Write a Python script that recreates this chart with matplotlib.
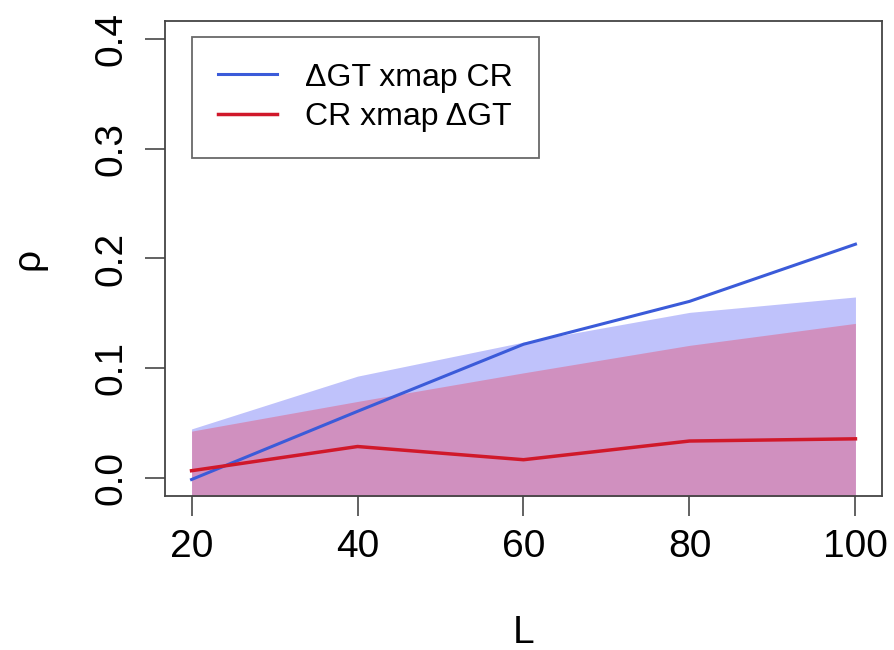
import matplotlib.pyplot as plt
import numpy as np

plt.rcParams['font.family'] = ['Liberation Sans', 'DejaVu Sans']

L = [20, 40, 60, 80, 100]
rho_gt_cr = [-0.001, 0.061, 0.122, 0.161, 0.213]
rho_cr_gt = [0.007, 0.029, 0.017, 0.034, 0.036]
upper_gt_cr = [0.045, 0.093, 0.124, 0.151, 0.165]
upper_cr_gt = [0.043, 0.070, 0.096, 0.121, 0.141]
lower = [-0.05, -0.05, -0.05, -0.05, -0.05]

fig = plt.figure(figsize=(8.95, 6.5), dpi=100)
ax = fig.add_axes([165 / 895, 1 - 496 / 650, 717 / 895, 475 / 650])

# null-model bands (clipped by the axes bottom like in R)
ax.fill_between(L, lower, upper_gt_cr, color='#0a14f0', alpha=0.26, lw=0)
ax.fill_between(L, lower, upper_cr_gt, color='#ff0a20', alpha=0.27, lw=0)

ax.plot(L, rho_gt_cr, color='#3b5bd9', lw=2.2, label='ΔGT xmap CR')
ax.plot(L, rho_cr_gt, color='#d0182a', lw=2.5, label='CR xmap ΔGT')

ax.set_xlim(20 - 3.2, 100 + 3.2)
ax.set_ylim(-0.016, 0.416)
ax.set_xticks([20, 40, 60, 80, 100])
ax.set_yticks([0.0, 0.1, 0.2, 0.3, 0.4])
ax.set_yticklabels(['0.0', '0.1', '0.2', '0.3', '0.4'], rotation=90, va='center')
ax.tick_params(direction='out', length=14.5, width=1.3, color='#555555',
               labelsize=28)
ax.tick_params(axis='x', pad=9)
ax.tick_params(axis='y', pad=11)
for s in ax.spines.values():
    s.set_color('#444444')
    s.set_linewidth(1.3)

ax.set_xlabel('L', fontsize=28)
ax.set_ylabel('ρ', fontsize=28)
ax.xaxis.set_label_coords(0.5, -0.25)
ax.yaxis.set_label_coords(-0.165, 0.5)

leg = ax.legend(loc='upper left', bbox_to_anchor=(192 / 895, 1 - 37 / 650),
                bbox_transform=fig.transFigure, fontsize=23, frameon=True,
                fancybox=False, handlelength=1.85, handletextpad=0.9,
                labelspacing=0.3, borderpad=0.8, borderaxespad=0)
leg.get_frame().set_edgecolor('#444444')
leg.get_frame().set_linewidth(1.3)

plt.savefig('out.png', dpi=100)
